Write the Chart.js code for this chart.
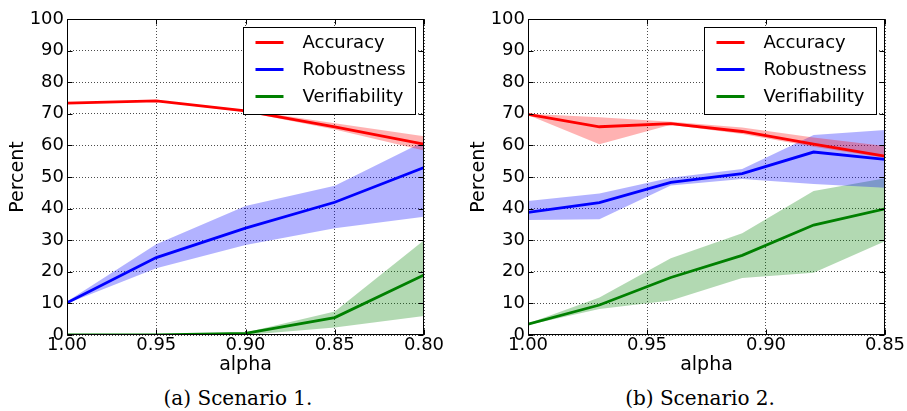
<!DOCTYPE html>
<html>
<head>
<meta charset="utf-8">
<script src="https://cdn.jsdelivr.net/npm/chart.js@4.4.0/dist/chart.umd.min.js"></script>
<style>
    body { margin: 0; background: #fff; width: 907px; height: 411px; position: relative; overflow: hidden; }
    canvas { position: absolute; top: 0; }
    .caption { position: absolute; top: 386px; font-family: "DejaVu Serif", serif; font-size: 20px; line-height: 24px; text-align: center; color: #000; }
</style>
</head>
<body>
<canvas id="chart1" width="446" height="380" style="left:0px"></canvas>
<canvas id="chart2" width="446" height="380" style="left:461px"></canvas>
<div class="caption" style="left:0px; width:476px;">(a) Scenario 1.</div>
<div class="caption" style="left:500px; width:400px;">(b) Scenario 2.</div>
<script>
const seriesNames = ['Accuracy', 'Robustness', 'Verifiability'];
const seriesColors = ['rgb(255, 0, 0)', 'rgb(0, 0, 255)', 'rgb(0, 128, 0)'];
const bandColors = ['rgba(255, 0, 0, 0.3)', 'rgba(0, 0, 255, 0.3)', 'rgba(0, 128, 0, 0.3)'];

// Scenario 1
const alpha1 = [1.00, 0.95, 0.90, 0.85, 0.80];
const acc1 = [73.4, 74.1, 70.9, 65.9, 60.4];
const acc1Low = [73.2, 73.9, 70.6, 65.0, 58.4];
const acc1High = [73.6, 74.3, 71.2, 67.0, 62.9];
const rob1 = [10.2, 24.5, 33.8, 42.0, 53.0];
const rob1Low = [10.0, 21.1, 28.5, 33.8, 37.4];
const rob1High = [10.6, 28.7, 40.8, 47.2, 61.2];
const ver1 = [0, 0, 0.5, 5.5, 19.0];
const ver1Low = [0, 0, 0, 2.4, 6.0];
const ver1High = [0, 0.2, 0.8, 7.4, 30.0];

// Scenario 2
const alpha2 = [1.00, 0.97, 0.94, 0.91, 0.88, 0.85];
const acc2 = [69.8, 65.9, 66.9, 64.4, 60.4, 56.6];
const acc2Low = [69.6, 60.4, 66.5, 63.6, 59.6, 56.0];
const acc2High = [70.0, 68.9, 67.5, 65.7, 62.5, 59.8];
const rob2 = [38.8, 41.9, 48.3, 51.1, 57.9, 55.6];
const rob2Low = [36.4, 36.6, 47.3, 49.4, 47.8, 46.6];
const rob2High = [42.4, 44.8, 49.8, 52.5, 63.3, 64.9];
const ver2 = [3.4, 9.5, 18.2, 25.2, 34.8, 39.9];
const ver2Low = [3.2, 8.2, 10.9, 18.0, 19.7, 29.7];
const ver2High = [3.6, 11.9, 24.3, 32.2, 45.6, 49.6];

const yTicks = [0, 10, 20, 30, 40, 50, 60, 70, 80, 90, 100];

// box around the plot, inward tick marks and the boxed legend (matplotlib classic look)
const framePlugin = {
    id: 'frame',
    afterDraw(chart) {
        const { ctx, chartArea: a, scales } = chart;
        const L = Math.round(a.left) + 0.5, R = Math.round(a.right) - 0.5;
        const T = Math.round(a.top) + 0.5, B = Math.round(a.bottom) - 0.5;
        ctx.save();
        ctx.strokeStyle = 'black';
        ctx.lineWidth = 1;
        ctx.beginPath();
        scales.x.ticks.forEach(t => {
            const x = Math.round(scales.x.getPixelForValue(t.value)) + 0.5;
            ctx.moveTo(x, B); ctx.lineTo(x, B - 5);
            ctx.moveTo(x, T); ctx.lineTo(x, T + 5);
        });
        scales.y.ticks.forEach(t => {
            const y = Math.round(scales.y.getPixelForValue(t.value)) + 0.5;
            ctx.moveTo(L, y); ctx.lineTo(L + 5, y);
            ctx.moveTo(R, y); ctx.lineTo(R - 5, y);
        });
        ctx.stroke();
        ctx.strokeRect(L, T, R - L, B - T);

        // legend
        const bw = 172, bh = 87;
        const bx = Math.round(a.right) - 9 - bw + 0.5, by = Math.round(a.top) + 8 + 0.5;
        ctx.fillStyle = 'white';
        ctx.fillRect(bx, by, bw, bh);
        ctx.strokeRect(bx, by, bw, bh);
        ctx.font = '18px "DejaVu Sans"';
        ctx.textBaseline = 'middle';
        seriesNames.forEach((name, i) => {
            const y = by + 15 + i * 27;
            ctx.strokeStyle = seriesColors[i];
            ctx.lineWidth = 3;
            ctx.beginPath();
            ctx.moveTo(bx + 12, y); ctx.lineTo(bx + 40, y);
            ctx.stroke();
            ctx.fillStyle = 'black';
            ctx.fillText(name, bx + 59, y + 1);
        });
        ctx.restore();
    }
};

function points(xs, ys) {
    return xs.map((x, i) => ({ x: x, y: ys[i] }));
}

function makeChart(canvasId, alphas, lines, bands, xMin) {
    const datasets = [];
    lines.forEach((vals, i) => {
        datasets.push({
            label: seriesNames[i],
            data: points(alphas, vals),
            borderColor: seriesColors[i],
            borderWidth: 2.8,
            pointRadius: 0,
            tension: 0,
            fill: false
        });
    });
    bands.forEach(([lo, hi], i) => {
        datasets.push({
            label: seriesNames[i] + ' low',
            data: points(alphas, lo),
            borderColor: 'transparent',
            borderWidth: 0,
            pointRadius: 0,
            tension: 0,
            fill: false
        });
        datasets.push({
            label: seriesNames[i] + ' high',
            data: points(alphas, hi),
            borderColor: 'transparent',
            borderWidth: 0,
            backgroundColor: bandColors[i],
            pointRadius: 0,
            tension: 0,
            fill: '-1'
        });
    });

    return new Chart(document.getElementById(canvasId).getContext('2d'), {
        type: 'line',
        data: { datasets: datasets },
        plugins: [framePlugin],
        options: {
            responsive: false,
            animation: false,
            devicePixelRatio: 1,
            layout: { padding: { left: 0, top: 19, right: 22, bottom: 0 } },
            plugins: { legend: { display: false }, tooltip: { enabled: false } },
            scales: {
                x: {
                    type: 'linear',
                    reverse: true,
                    min: xMin,
                    max: 1.0,
                    ticks: {
                        stepSize: 0.05,
                        padding: 0,
                        maxRotation: 0,
                        autoSkip: false,
                        color: 'black',
                        font: { family: 'DejaVu Sans', size: 18 },
                        callback: v => v.toFixed(2)
                    },
                    grid: { color: 'rgba(0, 0, 0, 0.7)', lineWidth: 1, drawTicks: false },
                    border: { display: false, dash: [1, 2] },
                    title: {
                        display: true,
                        text: 'alpha',
                        color: 'black',
                        font: { family: 'DejaVu Sans', size: 19 },
                        padding: { top: 0, bottom: 4 }
                    },
                    afterFit: scale => { scale.height = 45; }
                },
                y: {
                    min: 0,
                    max: 100,
                    afterBuildTicks: scale => { scale.ticks = yTicks.map(v => ({ value: v })); },
                    ticks: {
                        padding: 3,
                        color: 'black',
                        font: { family: 'DejaVu Sans', size: 18 }
                    },
                    grid: { color: 'rgba(0, 0, 0, 0.7)', lineWidth: 1, drawTicks: false },
                    border: { display: false, dash: [1, 2] },
                    title: {
                        display: true,
                        text: 'Percent',
                        color: 'black',
                        font: { family: 'DejaVu Sans', size: 19 },
                        padding: { top: 7, bottom: 0 }
                    },
                    afterFit: scale => { scale.width = 67; }
                }
            }
        }
    });
}

makeChart('chart1', alpha1, [acc1, rob1, ver1],
    [[acc1Low, acc1High], [rob1Low, rob1High], [ver1Low, ver1High]], 0.80);
makeChart('chart2', alpha2, [acc2, rob2, ver2],
    [[acc2Low, acc2High], [rob2Low, rob2High], [ver2Low, ver2High]], 0.85);
</script>
</body>
</html>
